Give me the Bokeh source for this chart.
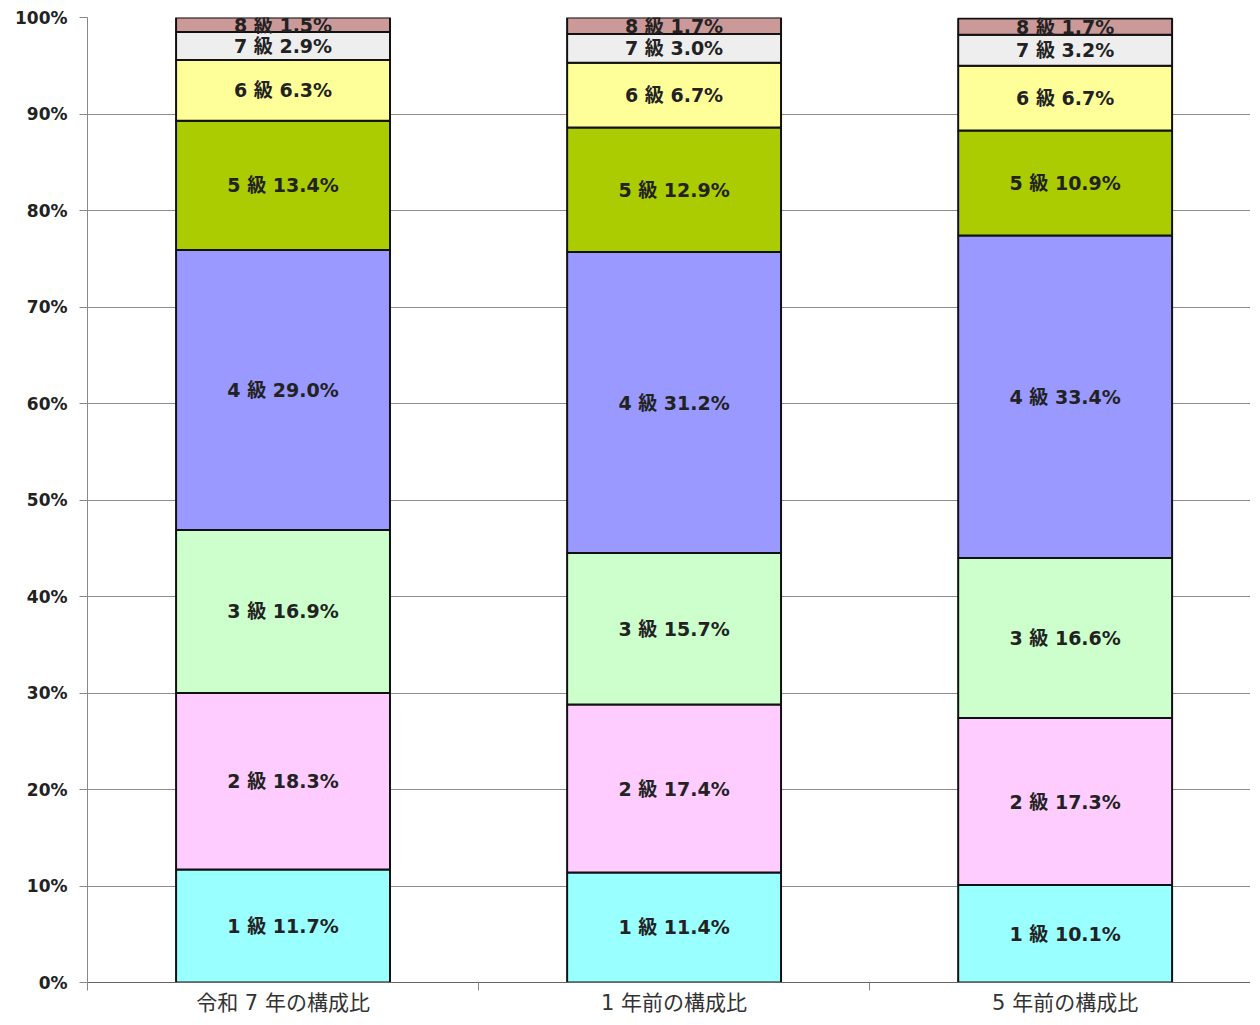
from bokeh.plotting import figure
from bokeh.models import ColumnDataSource, FixedTicker, PrintfTickFormatter, Range1d
from bokeh.embed import file_html
from bokeh.resources import INLINE
from bokeh.core.properties import value

categories = ["令和 7 年の構成比", "1 年前の構成比", "5 年前の構成比"]
grades = ["1 級", "2 級", "3 級", "4 級", "5 級", "6 級", "7 級", "8 級"]
g1 = [11.7, 11.4, 10.1]
g2 = [18.3, 17.4, 17.3]
g3 = [16.9, 15.7, 16.6]
g4 = [29.0, 31.2, 33.4]
g5 = [13.4, 12.9, 10.9]
g6 = [6.3, 6.7, 6.7]
g7 = [2.9, 3.0, 3.2]
g8 = [1.5, 1.7, 1.7]
series = [g1, g2, g3, g4, g5, g6, g7, g8]
colors = ["#99FFFF", "#FFCCFF", "#CCFFCC", "#9999FF", "#AACC00", "#FFFF99", "#EEEEEE", "#CC9999"]
y_ticks = list(range(0, 101, 10))

p = figure(width=1250, height=1017, output_backend="svg", toolbar_location=None,
           x_range=Range1d(0, 2.974), y_range=Range1d(0, 100),
           min_border_left=87, min_border_right=0, min_border_top=17, min_border_bottom=29)
p.outline_line_color = None
p.background_fill_color = "white"

xc = [i + 0.5 for i in range(len(categories))]
bottoms = [0.0] * len(categories)
FONT = "DejaVu Sans, Noto Sans CJK JP"
for gname, vals, col in zip(grades, series, colors):
    tops = [b + v for b, v in zip(bottoms, vals)]
    mids = [(b + t) / 2 for b, t in zip(bottoms, tops)]
    labels = [f"{gname} {v:.1f}%" for v in vals]
    src = ColumnDataSource(dict(x=xc, bottom=bottoms, top=tops, mid=mids, label=labels))
    p.vbar(x="x", bottom="bottom", top="top", width=0.547, source=src,
           fill_color=col, line_color="#111111", line_width=2)
    p.text(x="x", y="mid", text="label", source=src, text_align="center",
           text_baseline="middle", text_font=value(FONT), text_font_size="19px",
           text_font_style="bold", text_color="#222222")
    bottoms = tops

p.xgrid.visible = False
p.ygrid.ticker = FixedTicker(ticks=y_ticks)
p.ygrid.grid_line_color = "#8c8c8c"
p.ygrid.grid_line_width = 1
p.ygrid.level = "underlay"

ya = p.yaxis[0]
ya.ticker = FixedTicker(ticks=y_ticks)
ya.formatter = PrintfTickFormatter(format="%d%%")
ya.major_tick_out = 8
ya.major_tick_in = 0
ya.minor_tick_out = 0
ya.minor_tick_in = 0
ya.axis_line_color = "#888888"
ya.major_tick_line_color = "#888888"
ya.major_label_text_font = "DejaVu Sans"
ya.major_label_text_font_size = "17px"
ya.major_label_text_font_style = "bold"
ya.major_label_text_color = "#222222"
ya.major_label_standoff = 12

xa = p.xaxis[0]
xa.ticker = FixedTicker(ticks=xc, minor_ticks=[0, 1, 2, 3])
xa.major_label_overrides = {x: c for x, c in zip(xc, categories)}
xa.major_tick_out = 0
xa.major_tick_in = 0
xa.minor_tick_out = 8
xa.minor_tick_in = 0
xa.minor_tick_line_color = "#888888"
xa.axis_line_color = "#666666"
xa.major_label_text_font = FONT
xa.major_label_text_font_size = "21px"
xa.major_label_text_line_height = 0.8
xa.major_label_text_color = "#333333"
xa.major_label_standoff = 0

open("out.html", "w").write(file_html(p, INLINE))
